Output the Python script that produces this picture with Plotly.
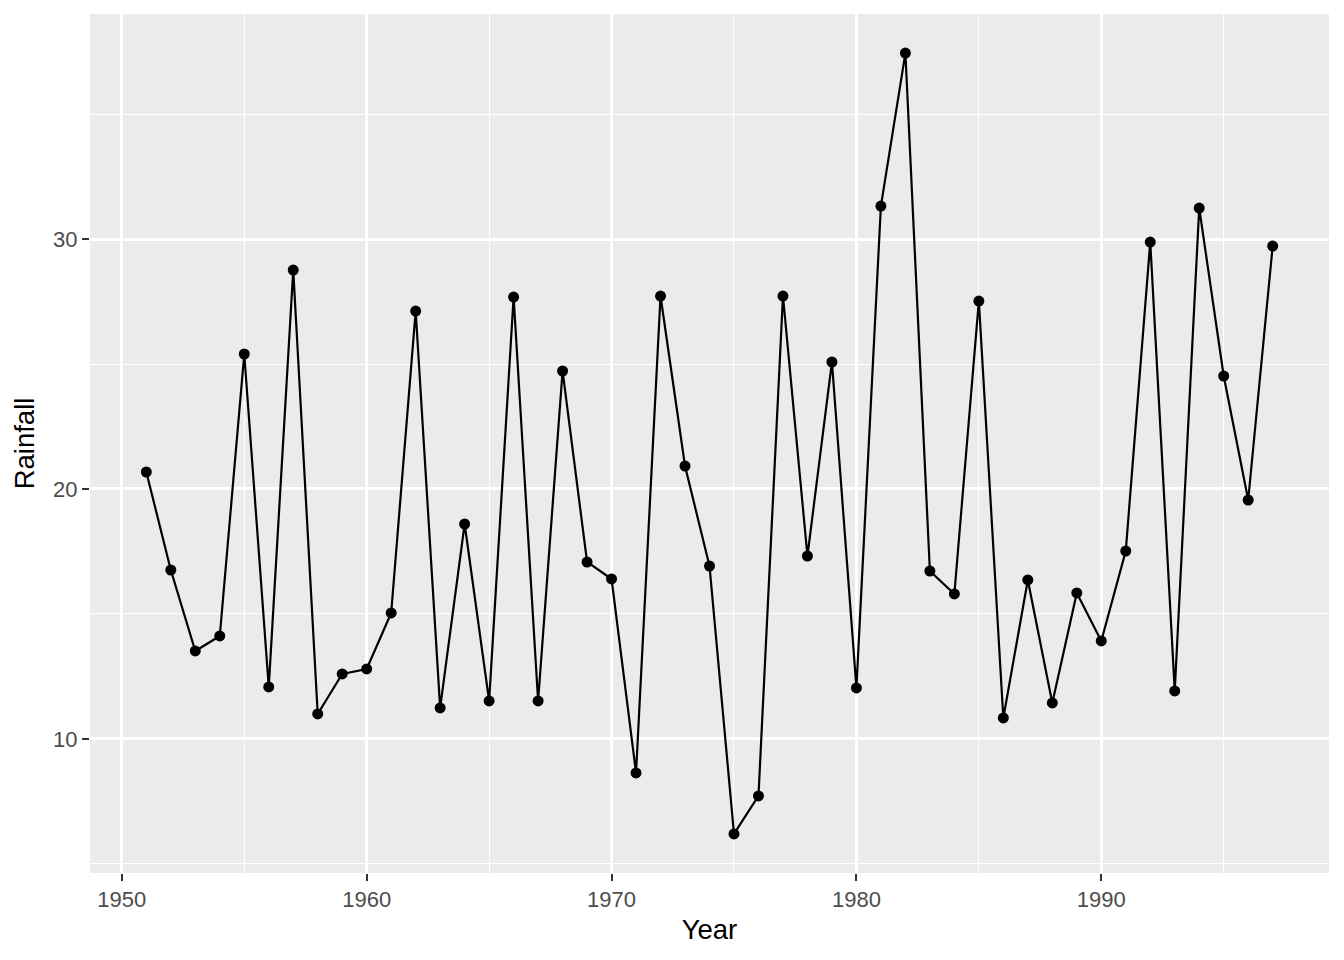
import plotly.graph_objects as go

years = list(range(1951, 1998))
rainfall = [20.68, 16.76, 13.52, 14.12, 25.40, 12.08, 28.76, 11.00, 12.60, 12.80,
            15.04, 27.12, 11.24, 18.60, 11.52, 27.68, 11.52, 24.72, 17.08, 16.40,
            8.64, 27.72, 20.92, 16.92, 6.20, 7.72, 27.72, 17.32, 25.08, 12.04,
            31.32, 37.44, 16.72, 15.80, 27.52, 10.84, 16.36, 11.44, 15.84, 13.92,
            17.52, 29.88, 11.92, 31.24, 24.52, 19.56, 29.72]

x_ticks = [1950, 1960, 1970, 1980, 1990]
y_ticks = [10, 20, 30]
x_minor = [1955, 1965, 1975, 1985, 1995]
y_minor = [5, 15, 25, 35]

FONT = "Liberation Sans, Arial, Helvetica, sans-serif"

fig = go.Figure()
fig.add_trace(go.Scatter(
    x=years, y=rainfall, mode="lines+markers",
    line=dict(color="black", width=2.2),
    marker=dict(color="black", size=11),
    showlegend=False,
))

ymin, ymax = min(rainfall), max(rainfall)
ypad = (ymax - ymin) * 0.05
xpad = (max(years) - min(years)) * 0.05

axis_common = dict(
    showgrid=True, gridcolor="white", gridwidth=2.5,
    zeroline=False, showline=False,
    ticks="outside", ticklen=7, tickwidth=2, tickcolor="#333333",
    tickfont=dict(family=FONT, size=22, color="#4D4D4D"),
)

fig.update_layout(
    width=1336, height=952,
    paper_bgcolor="white", plot_bgcolor="#EBEBEB",
    margin=dict(l=82, r=15, t=6, b=87),
    font=dict(family=FONT, color="black"),
    xaxis=dict(
        range=[min(years) - xpad, max(years) + xpad],
        tickvals=x_ticks,
        title=dict(text="Year", font=dict(family=FONT, size=27.5, color="black"), standoff=8),
        minor=dict(tickvals=x_minor, showgrid=True,
                   gridcolor="white", gridwidth=1.2, ticks=""),
        **axis_common,
    ),
    yaxis=dict(
        range=[ymin - ypad, ymax + ypad],
        tickvals=y_ticks,
        title=dict(text="Rainfall", font=dict(family=FONT, size=27.5, color="black"), standoff=10),
        minor=dict(tickvals=y_minor, showgrid=True,
                   gridcolor="white", gridwidth=1.2, ticks=""),
        **axis_common,
    ),
)

fig.write_html("out.html")
